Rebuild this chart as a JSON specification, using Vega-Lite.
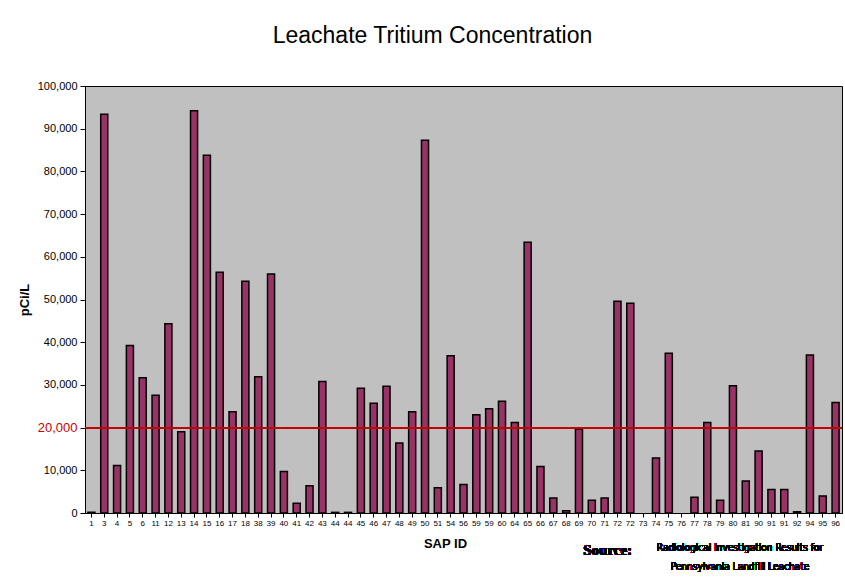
{
  "$schema": "https://vega.github.io/schema/vega-lite/v6.json",
  "width": 757,
  "height": 427,
  "autosize": {"type": "none"},
  "padding": {"left": 85, "top": 86, "right": 3, "bottom": 65},
  "background": "white",
  "title": {"text": "Leachate Tritium Concentration", "font": "Liberation Sans", "fontSize": 23, "fontWeight": "normal", "color": "black", "offset": 32, "dx": -31, "anchor": "middle"},
  "config": {
    "view": {"fill": "#c0c0c0", "stroke": "black", "strokeWidth": 1},
    "axis": {"grid": false, "domainColor": "black", "tickColor": "black", "labelFont": "Liberation Sans", "titleFont": "Liberation Sans", "labelColor": "black", "titleColor": "black"}
  },
  "data": {"values": [
    {"id": "1", "pci": 150}, {"id": "3", "pci": 93400}, {"id": "4", "pci": 11100}, {"id": "5", "pci": 39200},
    {"id": "6", "pci": 31700}, {"id": "11", "pci": 27600}, {"id": "12", "pci": 44300}, {"id": "13", "pci": 19000},
    {"id": "14", "pci": 94200}, {"id": "15", "pci": 83800}, {"id": "16", "pci": 56400}, {"id": "17", "pci": 23700},
    {"id": "18", "pci": 54300}, {"id": "38", "pci": 31900}, {"id": "39", "pci": 56000}, {"id": "40", "pci": 9700},
    {"id": "41", "pci": 2300}, {"id": "42", "pci": 6400}, {"id": "43", "pci": 30800}, {"id": "44", "pci": 150},
    {"id": "44b", "pci": 150}, {"id": "45", "pci": 29200}, {"id": "46", "pci": 25700}, {"id": "47", "pci": 29700},
    {"id": "48", "pci": 16400}, {"id": "49", "pci": 23700}, {"id": "50", "pci": 87300}, {"id": "51", "pci": 5900},
    {"id": "54", "pci": 36800}, {"id": "56", "pci": 6700}, {"id": "59", "pci": 23000}, {"id": "59b", "pci": 24400},
    {"id": "60", "pci": 26200}, {"id": "64", "pci": 21200}, {"id": "65", "pci": 63400}, {"id": "66", "pci": 10900},
    {"id": "67", "pci": 3500}, {"id": "68", "pci": 550}, {"id": "69", "pci": 19700}, {"id": "70", "pci": 3000},
    {"id": "71", "pci": 3500}, {"id": "72", "pci": 49600}, {"id": "72b", "pci": 49100}, {"id": "73", "pci": 0},
    {"id": "74", "pci": 12900}, {"id": "75", "pci": 37400}, {"id": "76", "pci": 0}, {"id": "77", "pci": 3700},
    {"id": "78", "pci": 21200}, {"id": "79", "pci": 3000}, {"id": "80", "pci": 29800}, {"id": "81", "pci": 7500},
    {"id": "90", "pci": 14500}, {"id": "91", "pci": 5500}, {"id": "91b", "pci": 5500}, {"id": "92", "pci": 300},
    {"id": "94", "pci": 37000}, {"id": "95", "pci": 4000}, {"id": "96", "pci": 25900}
  ]},
  "layer": [
    {
      "mark": {"type": "bar", "fill": "#993366", "stroke": "black", "strokeWidth": 1.5},
      "encoding": {
        "x": {"field": "id", "type": "nominal", "sort": null,
          "scale": {"paddingInner": 0.45, "paddingOuter": 0.225},
          "axis": {"title": "SAP ID", "labelAngle": 0, "labelFontSize": 8, "labelExpr": "replace(datum.label, 'b', '')", "tickSize": 4, "labelPadding": 2, "titleFontSize": 13, "titleFontWeight": "bold", "titlePadding": 10, "titleX": 360}},
        "y": {"field": "pci", "type": "quantitative",
          "scale": {"domain": [0, 100000], "nice": false},
          "axis": {"title": "pCi/L", "values": [0, 10000, 20000, 30000, 40000, 50000, 60000, 70000, 80000, 90000, 100000], "labelExpr": "format(datum.value, ',')", "tickSize": 5, "labelPadding": 3, "titleFontSize": 13, "titleFontWeight": "bold", "titlePadding": 6,
            "labelColor": {"condition": {"test": "datum.value === 20000", "value": "#cc0000"}, "value": "black"},
            "labelFontSize": {"condition": {"test": "datum.value === 20000", "value": 13}, "value": 11}}},
        "strokeOpacity": {"condition": {"test": "datum.pci == 0", "value": 0}, "value": 1}
      }
    },
    {
      "mark": {"type": "rule", "color": "#cc0000", "strokeWidth": 1},
      "encoding": {"y": {"datum": 20000}}
    },
    {
      "mark": {"type": "text", "text": "Source:", "font": "Liberation Serif", "fontSize": 15, "fontWeight": "bold", "color": "black", "align": "center", "baseline": "middle", "dx": 3},
      "encoding": {"x": {"datum": "71", "type": "nominal"}, "y": {"datum": -8700}}
    },
    {
      "mark": {"type": "text", "text": ["Radiological Investigation Results for", "Pennsylvania Landfill Leachate"], "font": "DejaVu Sans Condensed, Liberation Sans", "fontSize": 10, "fontWeight": "normal", "lineHeight": 19, "color": "black", "align": "center", "baseline": "middle", "dx": 7},
      "encoding": {"x": {"datum": "80", "type": "nominal"}, "y": {"datum": -8100}}
    }
  ]
}
